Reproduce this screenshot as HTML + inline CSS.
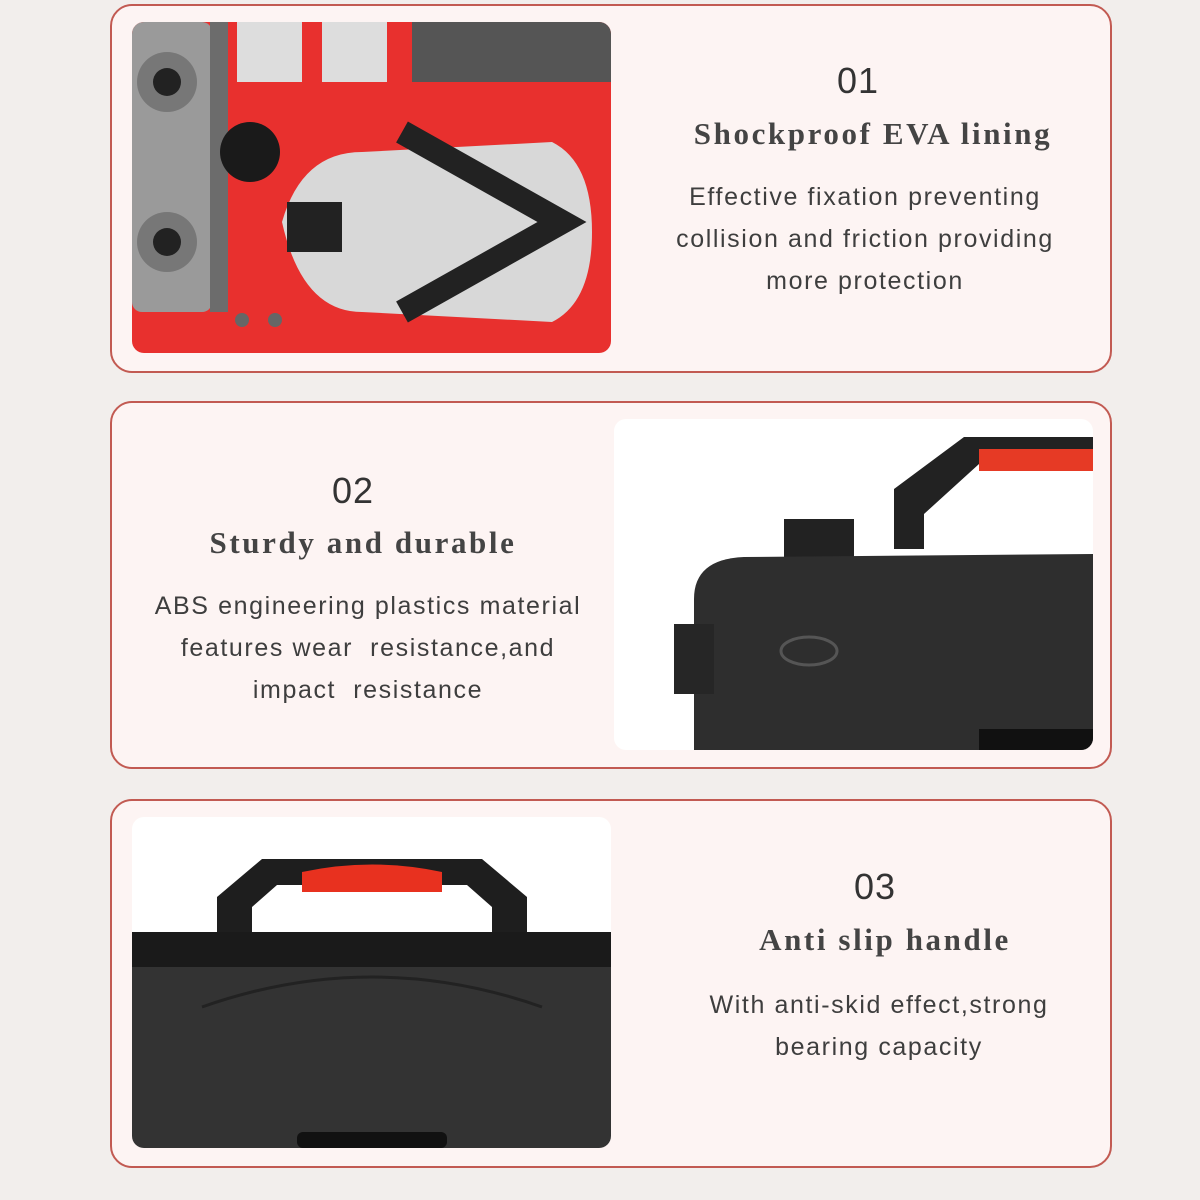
<!DOCTYPE html>
<html><head><style>
body{margin:0;width:1200px;height:1200px;background:#f2eeec;position:relative;overflow:hidden;font-family:"Liberation Sans",sans-serif}
.card{position:absolute;left:110px;width:998px;height:364px;border:2px solid #c25a52;border-radius:22px;background:#fdf4f3;box-sizing:content-box}
.img{position:absolute;width:479px;height:331px;border-radius:12px;overflow:hidden}
.t{position:absolute;text-align:center;color:#444;white-space:nowrap;transform:translateX(-50%)}
.num{font-size:36px;font-weight:300;color:#333;letter-spacing:1px}
.ti{font-family:"Liberation Serif",serif;font-weight:bold;font-size:31px;color:#444;letter-spacing:2.6px}
.b{font-size:25px;line-height:42px;color:#3e3e3e;letter-spacing:1.6px}
</style></head><body>
<div class="card" style="top:4px;height:365px"></div>
<div class="card" style="top:401px"></div>
<div class="card" style="top:799px;height:365px"></div>

<div class="img" style="left:132px;top:22px;background:#e8302e">
<svg width="479" height="331">
<rect x="0" y="0" width="80" height="290" fill="#9a9a9a" rx="10"/>
<rect x="78" y="0" width="18" height="290" fill="#6c6c6c"/>
<circle cx="35" cy="60" r="30" fill="#777"/><circle cx="35" cy="60" r="14" fill="#222"/>
<circle cx="35" cy="220" r="30" fill="#777"/><circle cx="35" cy="220" r="14" fill="#222"/>
<rect x="105" y="0" width="65" height="60" fill="#ddd"/><rect x="190" y="0" width="65" height="60" fill="#ddd"/>
<rect x="280" y="0" width="199" height="60" fill="#555"/>
<ellipse cx="118" cy="130" rx="30" ry="30" fill="#1a1a1a"/>
<path d="M150 200 Q170 130 230 130 L420 120 Q460 140 460 210 Q460 280 420 300 L230 290 Q170 290 150 200Z" fill="#d8d8d8"/>
<path d="M270 110 L430 200 L270 290" stroke="#222" stroke-width="24" fill="none"/>
<rect x="155" y="180" width="55" height="50" fill="#222"/>
<circle cx="110" cy="298" r="7" fill="#666"/><circle cx="143" cy="298" r="7" fill="#666"/>
</svg></div>

<div class="img" style="left:614px;top:419px;background:#fff">
<svg width="479" height="331">
<path d="M280 130 L280 70 L350 18 L479 18 L479 45 L365 45 L310 95 L310 130Z" fill="#222"/>
<rect x="365" y="30" width="114" height="22" fill="#e63a25"/>
<rect x="170" y="100" width="70" height="40" fill="#222"/>
<path d="M80 331 L80 180 Q80 140 130 138 L479 135 L479 331Z" fill="#2e2e2e"/>
<rect x="60" y="205" width="40" height="70" fill="#262626"/>
<ellipse cx="195" cy="232" rx="28" ry="14" fill="none" stroke="#555" stroke-width="3"/>
<rect x="365" y="310" width="114" height="21" fill="#111"/>
</svg></div>

<div class="img" style="left:132px;top:817px;background:#fff">
<svg width="479" height="331">
<path d="M85 130 L85 80 L130 42 L350 42 L395 80 L395 130 L360 130 L360 90 L335 68 L145 68 L120 90 L120 130Z" fill="#1e1e1e"/>
<path d="M170 55 Q240 40 310 55 L310 75 L170 75Z" fill="#e8311f"/>
<rect x="0" y="115" width="479" height="40" fill="#1a1a1a"/>
<rect x="0" y="150" width="479" height="181" fill="#333"/>
<path d="M70 190 Q240 130 410 190" stroke="#222" stroke-width="3" fill="none"/>
<rect x="165" y="315" width="150" height="16" fill="#111" rx="6"/>
</svg></div>

<div class="t num" style="left:858px;top:60px">01</div>
<div class="t ti" style="left:873px;top:116px">Shockproof EVA lining</div>
<div class="t b" style="left:865px;top:176px">Effective fixation preventing<br>collision and friction providing<br>more protection</div>

<div class="t num" style="left:353px;top:470px">02</div>
<div class="t ti" style="left:363px;top:525px">Sturdy and durable</div>
<div class="t b" style="left:368px;top:585px">ABS engineering plastics material<br>features wear&nbsp; resistance,and<br>impact&nbsp; resistance</div>

<div class="t num" style="left:875px;top:866px">03</div>
<div class="t ti" style="left:885px;top:922px">Anti slip handle</div>
<div class="t b" style="left:879px;top:984px">With anti-skid effect,strong<br>bearing capacity</div>
</body></html>
